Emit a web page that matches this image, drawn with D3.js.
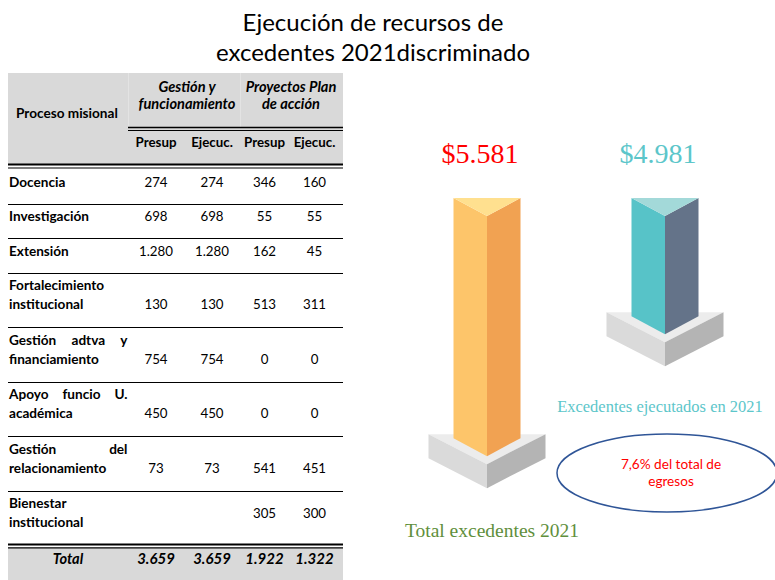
<!DOCTYPE html>
<html>
<head>
<meta charset="utf-8">
<script src="https://cdn.jsdelivr.net/npm/d3@7"></script>
<style>
  body { margin: 0; background: #fff; }
  svg { display: block; }
</style>
</head>
<body>
<div id="chart"></div>
<script>
// datos de la tabla
const titleLines = ["Ejecución de recursos de", "excedentes 2021discriminado"];
const groupHeaders = [["Gestión y", "funcionamiento"], ["Proyectos Plan", "de acción"]];
const subHeaders = ["Presup", "Ejecuc.", "Presup", "Ejecuc."];
const procesos = [
  ["Docencia"], ["Investigación"], ["Extensión"],
  ["Fortalecimiento", "institucional"], ["Gestión adtva y", "financiamiento"],
  ["Apoyo funcio U.", "académica"], ["Gestión del", "relacionamiento"],
  ["Bienestar", "institucional"]
];
const gfPresup = [274, 698, 1280, 130, 754, 450, 73, null];
const gfEjec   = [274, 698, 1280, 130, 754, 450, 73, null];
const ppPresup = [346, 55, 162, 513, 0, 0, 541, 305];
const ppEjec   = [160, 55, 45, 311, 0, 0, 451, 300];

// datos del grafico de columnas
const excLabels = ["Total excedentes 2021", "Excedentes ejecutados en 2021"];
const excValues = [5581, 4981];
const notaLines = ["7,6% del total de", "egresos"];

const es = d3.formatLocale({decimal: ",", thousands: ".", grouping: [3], currency: ["$", ""]});
const fmt = es.format(",");
const fmtMoney = es.format("$,");

const W = 775, H = 580;
const svg = d3.select("#chart").append("svg").attr("width", W).attr("height", H);
const sans = "Lato, 'Open Sans', sans-serif";
const serif = "'Liberation Serif', 'DejaVu Serif', serif";

// titulo
svg.append("g").selectAll("text").data(titleLines).enter().append("text")
  .attr("x", 373).attr("y", (d, i) => 31 + i * 30)
  .attr("text-anchor", "middle")
  .style("font-family", sans).style("font-size", "24px").attr("fill", "#000")
  .text(d => d);

// ---------- tabla ----------
const tX0 = 8, tX1 = 343;
const colEdges = [128, 184, 240, 289, 340];
const colX = d3.range(4).map(i => (colEdges[i] + colEdges[i + 1]) / 2);
const table = svg.append("g").style("font-family", sans).style("font-size", "13.6px");

// fondo gris del encabezado y del total
table.append("rect").attr("x", tX0).attr("y", 73).attr("width", tX1 - tX0).attr("height", 91).attr("fill", "#d9d9d9");
table.append("rect").attr("x", tX0).attr("y", 548).attr("width", tX1 - tX0).attr("height", 32).attr("fill", "#d9d9d9");
[128, 240].forEach(x => table.append("line").attr("x1", x + 0.5).attr("x2", x + 0.5).attr("y1", 73).attr("y2", 127)
  .attr("stroke", "#e3e3e3").attr("stroke-width", 1));

table.append("text").attr("x", 16).attr("y", 118).style("font-weight", "bold").text("Proceso misional");

const groupX = [187, 291];
groupHeaders.forEach((lines, gi) => {
  table.append("g").selectAll("text").data(lines).enter().append("text")
    .attr("x", groupX[gi]).attr("y", (d, i) => 92 + i * 17)
    .attr("text-anchor", "middle").style("font-weight", "bold").style("font-style", "italic")
    .style("font-size", "14.6px")
    .text(d => d);
});

table.selectAll(".sub").data(subHeaders).enter().append("text").attr("class", "sub")
  .attr("x", (d, i) => colX[i]).attr("y", 147)
  .attr("text-anchor", "middle").style("font-weight", "bold").style("font-size", "13.3px")
  .text(d => d);

// lineas del encabezado
function hline(y, x0, x1, w) {
  table.append("line").attr("x1", x0).attr("x2", x1).attr("y1", y).attr("y2", y)
    .attr("stroke", "#000").attr("stroke-width", w);
}
hline(127.5, 128, tX1, 1.5);
hline(130.5, 128, tX1, 1);
hline(164.5, tX0, tX1, 2);
hline(168, tX0, tX1, 1.2);

// filas
const cols = [gfPresup, gfEjec, ppPresup, ppEjec];
let y = 169;
const rows = procesos.map((lines, i) => {
  const h = lines.length === 1 ? 34.5 : 54.5;
  const r = {lines, top: y, h, i};
  y += h;
  return r;
});

function justifyLine(g, words, x0, x1, yy) {
  const t = g.selectAll(null).data(words).enter().append("text")
    .attr("y", yy).style("font-weight", "bold").text(d => d);
  const widths = t.nodes().map(n => n.getComputedTextLength());
  const gap = (x1 - x0 - d3.sum(widths)) / (words.length - 1);
  let x = x0;
  t.attr("x", (d, k) => { const v = x; x += widths[k] + gap; return v; });
}

rows.forEach(r => {
  const g = table.append("g");
  r.lines.forEach((line, li) => {
    const by = r.top + 17.5 + li * 19;
    const words = line.split(" ");
    if (li < r.lines.length - 1 && words.length > 1) {
      justifyLine(g, words, 9, 127.5, by);
    } else {
      g.append("text").attr("x", 9).attr("y", by).style("font-weight", "bold").text(line);
    }
  });
  const hasBlank = cols.some(c => c[r.i] === null);
  const lastBase = r.top + 17.5 + (r.lines.length - 1) * 19;
  const numY = hasBlank ? lastBase - 9.5 : lastBase;
  g.selectAll(".num").data(cols.map(c => c[r.i])).enter().append("text")
    .attr("x", (d, k) => colX[k]).attr("y", numY).attr("text-anchor", "middle")
    .style("font-size", "13.3px")
    .text(d => d === null ? "" : fmt(d));
  if (r.i < rows.length - 1) hline(Math.round(r.top + r.h) + 0.5, tX0, tX1, 1);
});

hline(544.5, tX0, tX1, 1.8);
hline(547.8, tX0, tX1, 1.2);

// total
table.append("text").attr("x", 68).attr("y", 564).attr("text-anchor", "middle")
  .style("font-weight", "bold").style("font-style", "italic").style("font-size", "14.6px").text("Total");
table.selectAll(".tot").data(cols.map(c => d3.sum(c))).enter().append("text").attr("class", "tot")
  .attr("x", (d, i) => colX[i]).attr("y", 564).attr("text-anchor", "middle")
  .style("font-weight", "bold").style("font-style", "italic").style("font-size", "15px")
  .text(d => fmt(d));

// ---------- columnas 3D ----------
const xPos = d3.scalePoint().domain(excLabels).range([487, 665]);
const hScale = d3.scaleLinear().domain([4400, 5600]).range([0, 244]);
const topY = 198, half = 33.5, tri = 18;
const baseHalf = 58.5, baseDepth = 30, baseSide = 24;
const palettes = [
  {top: "#ffe08f", left: "#fdc56a", right: "#f1a252", label: "#ff0000", caption: "#5f8f3c"},
  {top: "#a3d9d9", left: "#57c3c8", right: "#647389", label: "#5cc6ca", caption: "#5cc6ca"}
];
const data = excLabels.map((label, i) => ({label, value: excValues[i], pal: palettes[i]}));

const cg = svg.append("g");
const pts = a => a.map(p => p.join(",")).join(" ");
const item = cg.selectAll("g").data(data).enter().append("g");

item.each(function (d) {
  const g = d3.select(this);
  const cx = xPos(d.label);
  const bottom = topY + hScale(d.value);
  const bTop = bottom - 4;
  // base
  g.append("polygon").attr("points", pts([[cx - baseHalf, bTop], [cx + baseHalf, bTop], [cx, bTop + baseDepth]])).attr("fill", "#ececec");
  g.append("polygon").attr("points", pts([[cx - baseHalf, bTop], [cx, bTop + baseDepth], [cx, bTop + baseDepth + baseSide], [cx - baseHalf, bTop + baseSide]])).attr("fill", "#dadada");
  g.append("polygon").attr("points", pts([[cx, bTop + baseDepth], [cx + baseHalf, bTop], [cx + baseHalf, bTop + baseSide], [cx, bTop + baseDepth + baseSide]])).attr("fill", "#b4b4b4");
  // columna
  g.append("polygon").attr("points", pts([[cx - half, topY], [cx, topY + tri], [cx, bottom + tri], [cx - half, bottom]])).attr("fill", d.pal.left);
  g.append("polygon").attr("points", pts([[cx, topY + tri], [cx + half, topY], [cx + half, bottom], [cx, bottom + tri]])).attr("fill", d.pal.right);
  g.append("polygon").attr("points", pts([[cx - half, topY], [cx + half, topY], [cx, topY + tri]])).attr("fill", d.pal.top);
  // valor
  g.append("text").attr("x", cx - 7).attr("y", 163).attr("text-anchor", "middle")
    .style("font-family", serif).style("font-size", "28px").attr("fill", d.pal.label)
    .text(fmtMoney(d.value));
});

svg.append("text").attr("x", 492).attr("y", 537).attr("text-anchor", "middle")
  .style("font-family", serif).style("font-size", "19.5px").attr("fill", palettes[0].caption)
  .text(excLabels[0]);
svg.append("text").attr("x", 660).attr("y", 412).attr("text-anchor", "middle")
  .style("font-family", serif).style("font-size", "16.5px").attr("fill", palettes[1].caption)
  .text(excLabels[1]);

// nota en elipse
svg.append("ellipse").attr("cx", 667).attr("cy", 473).attr("rx", 110).attr("ry", 39)
  .attr("fill", "none").attr("stroke", "#2f5597").attr("stroke-width", 1.5);
svg.append("g").selectAll("text").data(notaLines).enter().append("text")
  .attr("x", 671).attr("y", (d, i) => 469 + i * 17).attr("text-anchor", "middle")
  .style("font-family", sans).style("font-size", "13.6px").attr("fill", "#ff0000")
  .text(d => d);
</script>
</body>
</html>
